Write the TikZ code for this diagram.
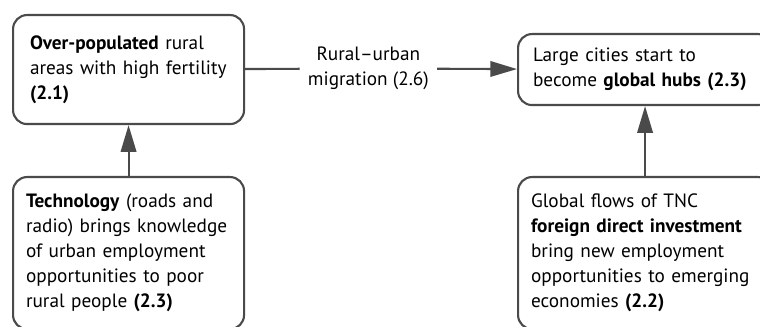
\documentclass[tikz,border=0pt]{standalone}
\usepackage{fontspec}
\setmainfont{PT Sans}
\usepackage{tikz}
\usetikzlibrary{arrows.meta}
\definecolor{boxgray}{HTML}{4A4A4A}

\begin{document}
\begin{tikzpicture}[
    stagebox/.style={draw=boxgray, line width=1.5pt, rounded corners=0.35cm, anchor=north west,
        align=left, font=\fontsize{13.7}{17.8}\selectfont},
    flow/.style={-{Triangle[length=19pt,width=11pt]}, line width=1.5pt, boxgray}
]

% Frame
\clip (0,0) rectangle (19,8.175);

% Top row
\node[stagebox, minimum width=5.775cm, minimum height=2.725cm, text width=4.925cm] (overpop) at (0.3,7.825)
    {\textbf{Over-populated} rural\\ areas with high fertility\\ \textbf{(2.1)}};
\node[stagebox, minimum width=6.35cm, minimum height=1.775cm, text width=5.6cm] (hubs) at (12.925,7.35)
    {Large cities start to\\ become \textbf{global hubs (2.3)}};

% Bottom row
\node[stagebox, minimum width=5.775cm, minimum height=3.8cm, text width=5.125cm] (tech) at (0.3,3.775)
    {\textbf{Technology} (roads and\\ radio) brings knowledge\\ of urban employment\\ opportunities to poor\\ rural people \textbf{(2.3)}};
\node[stagebox, minimum width=6.35cm, minimum height=3.8cm, text width=5.7cm] (fdi) at (12.925,3.775)
    {Global flows of TNC\\ \mbox{\textbf{foreign direct investment}}\\ bring new employment\\ opportunities to emerging\\ economies \textbf{(2.2)}};

% Migration label
\node[font=\fontsize{13.7}{17.8}\selectfont, align=center, inner xsep=0.2cm] (migr) at (9.21,6.4625)
    {Rural–urban\\ migration (2.6)};

% Connectors
\draw[line width=1.5pt, boxgray] (overpop) -- (migr);
\draw[flow] (migr) -- (hubs);
\draw[flow] (tech) -- (overpop);
\draw[flow] (fdi) -- (hubs);

\end{tikzpicture}
\end{document}
